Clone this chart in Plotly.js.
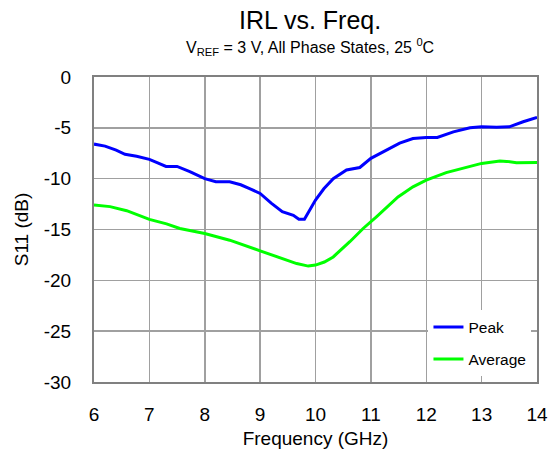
<!DOCTYPE html>
<html>
<head>
<meta charset="utf-8">
<script src="https://cdn.plot.ly/plotly-3.0.1.min.js"></script>
<style>html,body{margin:0;padding:0;background:#fff;}#chart{width:560px;height:451px;}</style>
</head>
<body>
<div id="chart"></div>
<script>
const peakFreq = [6.0,6.2,6.4,6.56,6.77,7.0,7.15,7.3,7.5,7.73,8.0,8.2,8.45,8.65,8.82,9.0,9.2,9.4,9.6,9.7,9.8,9.9,10.0,10.15,10.32,10.56,10.8,11.0,11.28,11.52,11.76,12.0,12.2,12.49,12.79,13.0,13.27,13.5,13.75,14.0];
const peakS11 = [-6.6,-6.8,-7.2,-7.6,-7.8,-8.1,-8.45,-8.8,-8.8,-9.3,-10.0,-10.3,-10.3,-10.6,-11.0,-11.45,-12.4,-13.25,-13.6,-14.0,-14.0,-13.0,-12.1,-11.0,-10.0,-9.15,-8.9,-8.0,-7.2,-6.5,-6.05,-5.95,-5.95,-5.4,-5.0,-4.9,-4.95,-4.9,-4.4,-3.97];
const avgFreq = [6.0,6.29,6.59,7.0,7.31,7.55,8.0,8.45,9.0,9.36,9.66,9.87,10.0,10.16,10.32,10.62,10.86,11.1,11.49,11.76,12.0,12.36,12.72,13.0,13.33,13.45,13.63,14.0];
const avgS11 = [-12.6,-12.75,-13.15,-14.0,-14.45,-14.9,-15.4,-16.05,-17.1,-17.8,-18.35,-18.6,-18.5,-18.2,-17.7,-16.2,-14.9,-13.75,-11.8,-10.8,-10.15,-9.4,-8.9,-8.5,-8.27,-8.3,-8.43,-8.4];
const seriesNames = ["Peak", "Average"];
const xTicks = [6,7,8,9,10,11,12,13,14];
const yTicks = [0,-5,-10,-15,-20,-25,-30];

const font = "Liberation Sans, Arial, Helvetica, sans-serif";
const traces = [
  {x: peakFreq, y: peakS11, name: seriesNames[0], mode: "lines", legendgroup: "a",
   line: {color: "#0000ff", width: 3}},
  {x: avgFreq, y: avgS11, name: seriesNames[1], mode: "lines", legendgroup: "b",
   line: {color: "#00ff00", width: 3}}
];
const layout = {
  width: 560, height: 451,
  margin: {l: 94, r: 23, t: 77, b: 69},
  paper_bgcolor: "#fff", plot_bgcolor: "#fff",
  font: {family: font, color: "#000", size: 18},
  showlegend: true,
  legend: {x: 0.755, y: 0.235, xanchor: "left", yanchor: "top", bgcolor: "#fff",
    borderwidth: 0, font: {size: 15.5, family: font}, traceorder: "grouped", tracegroupgap: 9},
  xaxis: {range: [6, 14], tickvals: xTicks, ticktext: xTicks.map(String), showgrid: true,
    gridcolor: "#a0a0a0", gridwidth: 1.5, showline: true, linecolor: "#808080", linewidth: 2,
    mirror: true, zeroline: false, ticks: "", ticklabelstandoff: 14,
    tickfont: {size: 19}, title: {text: "Frequency (GHz)", font: {size: 19}, standoff: 8}},
  yaxis: {range: [-30, 0], tickvals: yTicks, ticktext: yTicks.map(String), showgrid: true,
    gridcolor: "#a0a0a0", gridwidth: 1.5, showline: true, linecolor: "#808080", linewidth: 2,
    mirror: true, zeroline: false, ticks: "", ticklabelstandoff: 17,
    tickfont: {size: 19}, title: {text: "S11 (dB)", font: {size: 19}, standoff: 10}},
  annotations: [
    {text: "IRL vs. Freq.", xref: "paper", yref: "paper", x: 0.4876, y: 1.187,
     xanchor: "center", yanchor: "middle", showarrow: false, font: {size: 25}},
    {text: "V<sub>REF</sub> = 3 V, All Phase States, 25 <sup>0</sup>C", xref: "paper", yref: "paper",
     x: 0.4876, y: 1.098, xanchor: "center", yanchor: "middle", showarrow: false, font: {size: 16}}
  ]
};
Plotly.newPlot("chart", traces, layout, {displayModeBar: false, staticPlot: true});
</script>
</body>
</html>
